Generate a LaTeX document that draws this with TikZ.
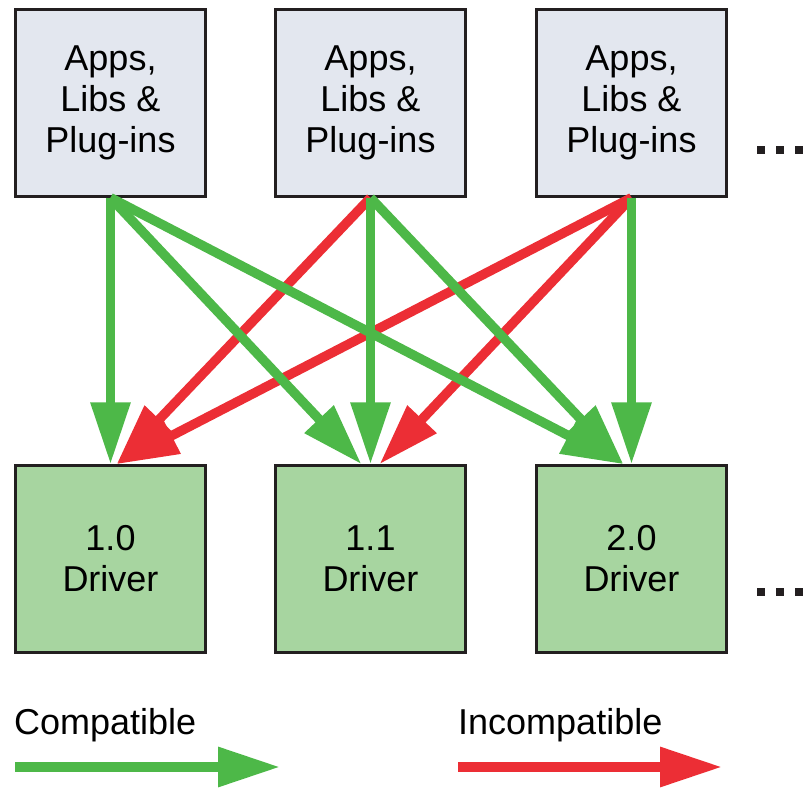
\documentclass[tikz,border=0pt]{standalone}
\usepackage{fontspec}
\setmainfont{Liberation Sans}
\usetikzlibrary{arrows.meta}
\definecolor{boxgray}{HTML}{E3E7EF}
\definecolor{boxgreen}{HTML}{A7D5A0}
\definecolor{okgreen}{HTML}{4DB848}
\definecolor{badred}{HTML}{EC2E35}
\definecolor{edge}{HTML}{231F20}
\begin{document}
\begin{tikzpicture}[x=1pt, y=-1pt, font=\fontsize{36}{41}\selectfont,
        box/.style={draw=edge, line width=2.5pt, minimum width=190pt, minimum height=187pt, align=center, inner sep=0pt},
        lib/.style={box, fill=boxgray},
        drv/.style={box, fill=boxgreen},
        link/.style={line width=9.5pt, -{Triangle[length=62pt, width=38pt]}},
        ok/.style={link, okgreen},
        bad/.style={link, badred}]
    \useasboundingbox (0,0) rectangle (804,789);
    % libraries and drivers
    \node[lib] (t1) at (110.5,103) {Apps,\\Libs \&\\Plug-ins};
    \node[lib] (t2) at (370.5,103) {Apps,\\Libs \&\\Plug-ins};
    \node[lib] (t3) at (631.5,103) {Apps,\\Libs \&\\Plug-ins};
    \node[drv] (b1) at (110.5,559) {1.0\\Driver};
    \node[drv] (b2) at (370.5,559) {1.1\\Driver};
    \node[drv] (b3) at (631.5,559) {2.0\\Driver};
    % more to come
    \foreach \y in {150,592}
        \foreach \x in {761,780,799}
            \fill[edge] (\x-4,\y-4) rectangle (\x+4,\y+4);
    % incompatible pairs
    \draw[bad] (t2.south) -- ([xshift=6pt]b1.north);
    \draw[bad] (t3.south) -- ([xshift=6pt]b1.north);
    \draw[bad] (t3.south) -- ([xshift=9pt]b2.north);
    % compatible pairs
    \draw[ok] (t1.south) -- ([xshift=-9pt]b2.north);
    \draw[ok] (t1.south) -- ([xshift=-8pt]b3.north);
    \draw[ok] (t2.south) -- ([xshift=-8pt]b3.north);
    \foreach \i in {1,2,3}
        \draw[ok] (t\i.south) -- (b\i.north);
    % legend
    \node[anchor=west, inner sep=0pt] (okkey) at (14,725) {Compatible};
    \node[anchor=west, inner sep=0pt] (badkey) at (458,725) {Incompatible};
    \coordinate (okfrom) at (15,767);
    \coordinate (okto) at (280,767);
    \coordinate (badfrom) at (458,767);
    \coordinate (badto) at (722,767);
    \draw[ok] (okfrom) -- (okto);
    \draw[bad] (badfrom) -- (badto);
\end{tikzpicture}
\end{document}
